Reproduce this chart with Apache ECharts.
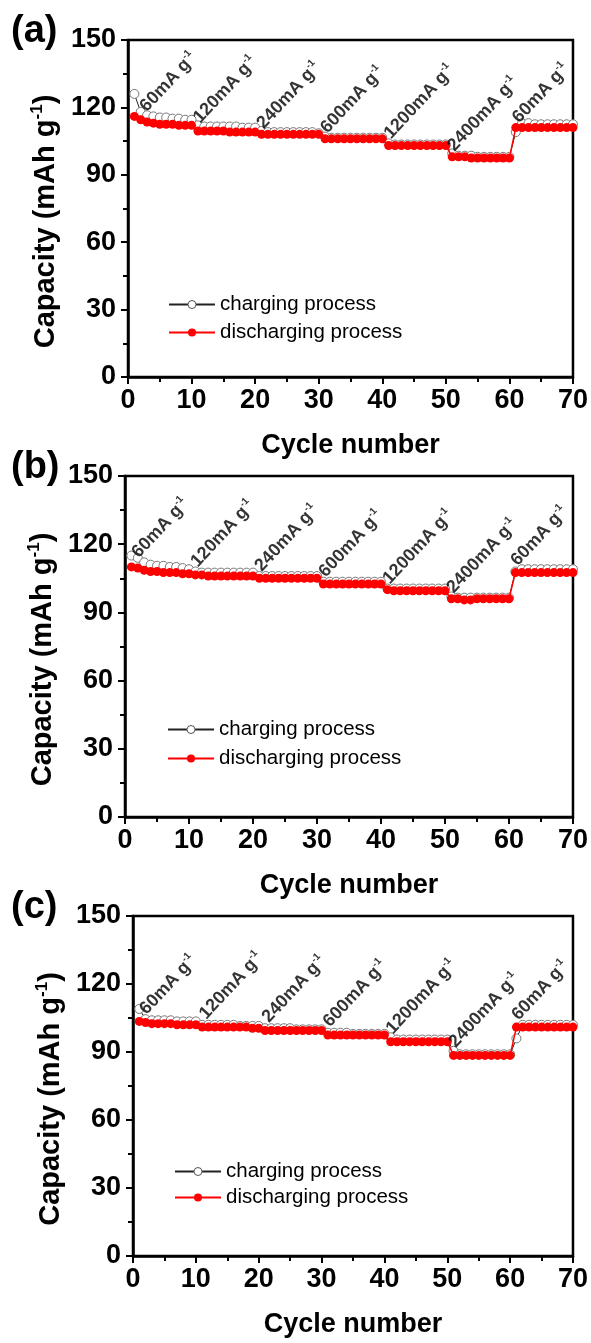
<!DOCTYPE html>
<html><head><meta charset="utf-8">
<script src="https://cdn.jsdelivr.net/npm/echarts@6/dist/echarts.min.js"></script>
<style>html,body{margin:0;padding:0;background:#fff}#c{width:591px;height:1343px}</style>
</head><body><div id="c"></div>
<script>
// ---------- data ----------
const cycles = Array.from({length: 70}, (_, i) => i + 1);
const xTicks = [0, 10, 20, 30, 40, 50, 60, 70];
const yTicks = [0, 30, 60, 90, 120, 150];
const rateLabels = ['60', '120', '240', '600', '1200', '2400', '60'];

const chargeA = [126,118,116.5,116,115.5,115.5,115,115,114.5,114.5,
  112,111.5,111.5,111.5,111.5,111.5,111.5,111,111,111,
  109.5,109,109,109,109,109,109,109,109,108.5,
  107,106.5,106.5,106.5,106.5,106.5,106.5,106.5,106.5,106.5,
  104,103.5,103.5,103.5,103.5,103.5,103.5,103.5,103.5,103.5,
  99.5,98.5,98.5,98.5,98,98,98,98,98,98,
  109,113,113,112.5,112.5,112.5,112.5,112.5,112.5,112.5];
const dischargeA = [116,114.5,113.5,113,112.5,112.5,112.5,112,112,112,
  109.5,109.5,109.5,109.5,109.5,109,109,109,109,109,
  108,108,108,108,108,108,108,108,108,108,
  106,106,106,106,106,106,106,106,106,106,
  103,103,103,103,103,103,103,103,103,103,
  98,98,98,97.5,97.5,97.5,97.5,97.5,97.5,97.5,
  111,111,111,111,111,111,111,111,111,111];
const chargeB = [115,114,112,111,110.5,110.5,110,110,109.5,109,
  108,107.5,107.5,107.5,107.5,107.5,107.5,107.5,107.5,107.5,
  106,106,106,106,106,106,106,106,106,106,
  103.5,103.5,103.5,103.5,103.5,103.5,103.5,103.5,103.5,103.5,
  100.5,100.5,100.5,100.5,100.5,100.5,100.5,100.5,100.5,100.5,
  97,96.5,96.5,96.5,96.5,96.5,96.5,96.5,96.5,96.5,
  108,109,109,109,109,109,109,109,109,109];
const dischargeB = [110,109.5,108.5,108,108,107.5,107.5,107.5,107,107,
  106.5,106.5,106,106,106,106,106,106,106,106,
  105,105,105,105,105,105,105,105,105,105,
  102.5,102.5,102.5,102.5,102.5,102.5,102.5,102.5,102.5,102.5,
  100,99.5,99.5,99.5,99.5,99.5,99.5,99.5,99.5,99.5,
  96,96,95.5,95.5,96,96,96,96,96,96,
  107.5,107.5,107.5,107.5,107.5,107.5,107.5,107.5,107.5,107.5];
const chargeC = [109,104.5,104,104,104,104,103.5,103.5,103.5,103.5,
  102,102,102,102,102,102,101.5,101.5,101.5,101.5,
  100.5,100.5,100.5,100.5,100.5,100,100,100,100,100,
  98.5,98.5,98.5,98.5,98,98,98,98,98,98,
  96.5,95.5,95.5,95.5,95.5,95.5,95.5,95.5,95.5,95.5,
  90.5,89,89,89,89,89,89,89,89,89,
  96,102,102,102,102,102,102,102,102,102];
const dischargeC = [103.5,103,102.5,102.5,102.5,102.5,102,102,102,102,
  101,101,101,101,101,101,101,101,100.5,100.5,
  99.5,99.5,99.5,99.5,99.5,99.5,99.5,99.5,99.5,99.5,
  97.5,97.5,97.5,97.5,97.5,97.5,97.5,97.5,97.5,97.5,
  94.5,94.5,94.5,94.5,94.5,94.5,94.5,94.5,94.5,94.5,
  88.5,88.5,88.5,88.5,88.5,88.5,88.5,88.5,88.5,88.5,
  101,101,101,101,101,101,101,101,101,101];
// annotation anchor points [cycle, capacity]
const annotA = [[3.6,116],[12,111],[22,108.5],[32,106.5],[42,104],[52,98.5],[62.2,111]];
const annotB = [[2.8,112],[12,108],[22,106],[32,103.5],[42,100.5],[52,96.5],[62,108.5]];
const annotC = [[2.8,104.5],[12.3,102.5],[22.3,101],[32,99],[42,96],[52,90],[62,102]];
const panelLabels = ['(a)', '(b)', '(c)'];

// ---------- layout ----------
const FONT = 'Liberation Sans, Arial, sans-serif';
const grids = [
  {left: 128, top: 40, width: 445, height: 337},
  {left: 125, top: 476, width: 450, height: 341},
  {left: 133, top: 916, width: 447, height: 340}
];
const legendPos = [{left: 163, top: 289, gap: 7}, {left: 162, top: 714, gap: 8}, {left: 169, top: 1156, gap: 5}];
const charges = [chargeA, chargeB, chargeC];
const discharges = [dischargeA, dischargeB, dischargeC];
const annots = [annotA, annotB, annotC];

const option = {
  animation: false,
  title: panelLabels.map((t, i) => ({
    text: t, left: 6, top: grids[i].top - 32,
    textStyle: {fontFamily: FONT, fontWeight: 'bold', fontSize: 38, color: '#000'}
  })),
  grid: grids.map(g => ({...g, show: true, borderColor: '#000', borderWidth: 2.5, backgroundColor: 'transparent'})),
  legend: legendPos.map(l => ({
    left: l.left, top: l.top, orient: 'vertical', itemGap: l.gap, itemWidth: 46, itemHeight: 10,
    data: ['charging process', 'discharging process'],
    textStyle: {fontFamily: FONT, fontSize: 20.5, color: '#000', padding: [0,0,0,0]},
    selectedMode: false
  })),
  xAxis: grids.map((g, i) => ({
    type: 'value', gridIndex: i, min: 0, max: 70, interval: 10,
    name: 'Cycle number', nameLocation: 'middle', nameGap: 55,
    nameTextStyle: {fontFamily: FONT, fontWeight: 'bold', fontSize: 27, color: '#000'},
    axisLine: {show: true, onZero: false, lineStyle: {color: '#000', width: 2.5}},
    axisTick: {show: true, length: 7, lineStyle: {color: '#000', width: 2}},
    minorTick: {show: true, splitNumber: 2, length: 5, lineStyle: {color: '#000', width: 2}},
    axisLabel: {fontFamily: FONT, fontWeight: 'bold', fontSize: 27, color: '#000', margin: 10},
    splitLine: {show: false}
  })),
  yAxis: grids.map((g, i) => ({
    type: 'value', gridIndex: i, min: 0, max: 150, interval: 30,
    name: '{b|Capacity (mAh g}{s|-1}{b|)}', nameLocation: 'middle', nameGap: 57, nameRotate: 90,
    nameTextStyle: {
      padding: [0, 26, 0, 0],
      rich: {
        b: {fontFamily: FONT, fontWeight: 'bold', fontSize: 29, color: '#000'},
        s: {fontFamily: FONT, fontWeight: 'bold', fontSize: 17, color: '#000', padding: [0,0,16,0]}
      }
    },
    axisLine: {show: true, onZero: false, lineStyle: {color: '#000', width: 2.5}},
    axisTick: {show: true, length: 7, lineStyle: {color: '#000', width: 2}},
    minorTick: {show: true, splitNumber: 2, length: 5, lineStyle: {color: '#000', width: 2}},
    axisLabel: {fontFamily: FONT, fontWeight: 'bold', fontSize: 27, color: '#000', margin: 12},
    splitLine: {show: false}
  })),
  series: []
};

for (let i = 0; i < 3; i++) {
  option.series.push({
    type: 'line', name: 'charging process', xAxisIndex: i, yAxisIndex: i,
    data: cycles.map((c, k) => [c, charges[i][k]]),
    symbol: 'circle', symbolSize: 9,
    lineStyle: {color: '#222', width: 1},
    itemStyle: {color: '#fff', borderColor: '#777', borderWidth: 1},
    z: 2
  });
  option.series.push({
    type: 'line', name: 'discharging process', xAxisIndex: i, yAxisIndex: i,
    data: cycles.map((c, k) => [c, discharges[i][k]]),
    symbol: 'circle', symbolSize: 9,
    lineStyle: {color: '#f00', width: 1.5},
    itemStyle: {color: '#f00', borderColor: '#f00', borderWidth: 0},
    z: 3
  });
  option.series.push({
    type: 'scatter', name: 'annot' + i, xAxisIndex: i, yAxisIndex: i,
    data: annots[i].map((p, k) => ({value: p, rate: rateLabels[k]})),
    symbolSize: 0, silent: true, z: 5,
    label: {
      show: true, position: 'inside', align: 'left', verticalAlign: 'bottom', rotate: 47,
      formatter: p => '{t|' + p.data.rate + 'mA g}{s|-1}',
      rich: {
        t: {fontFamily: FONT, fontWeight: 'bold', fontSize: 18, color: '#000'},
        s: {fontFamily: FONT, fontWeight: 'bold', fontSize: 10, color: '#000', padding: [0,0,11,0]}
      }
    }
  });
}
// legend icons
option.legend.forEach(l => {
  l.data = [
    {name: 'charging process', itemStyle: {color: '#fff', borderColor: '#555', borderWidth: 1}, lineStyle: {color: '#222', width: 2}},
    {name: 'discharging process', itemStyle: {color: '#f00', borderWidth: 0}, lineStyle: {color: '#f00', width: 2}}
  ];
});

const chart = echarts.init(document.getElementById('c'), null, {renderer: 'canvas'});
chart.setOption(option);
</script></body></html>
